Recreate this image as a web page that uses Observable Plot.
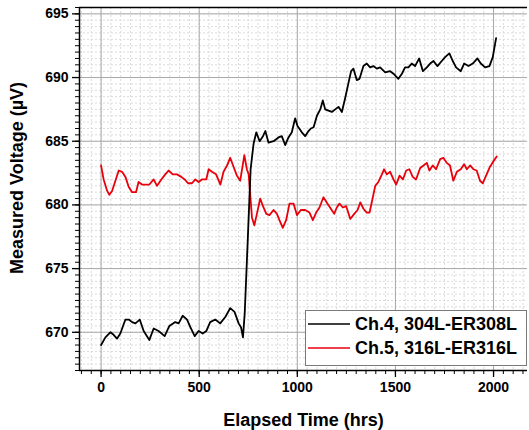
<!DOCTYPE html>
<html>
<head>
<meta charset="utf-8">
<script src="https://cdn.jsdelivr.net/npm/d3@7"></script>
<script src="https://cdn.jsdelivr.net/npm/@observablehq/plot@0.6"></script>
<style>
  html, body { margin: 0; padding: 0; background: #fff; }
  #chart svg { display: block; }
</style>
</head>
<body>
<div id="chart"></div>
<script>
// ---- Data ----
const seriesNames = ["Ch.4, 304L-ER308L", "Ch.5, 316L-ER316L"];
const seriesColors = ["#000000", "#e8000b"];

const timeCh4 = [0,22,47,64,81,98,124,141,158,175,197,217,246,268,293,324,348,378,395,416,438,455,477,497,518,536,556,582,607,633,658,680,701,713,723,732,743,752,762,777,791,808,825,837,853,879,904,921,938,955,972,989,1001,1023,1040,1057,1069,1083,1100,1117,1130,1142,1159,1176,1193,1210,1227,1244,1261,1274,1286,1303,1317,1337,1354,1371,1388,1405,1422,1448,1473,1490,1515,1533,1549,1566,1583,1600,1621,1640,1660,1677,1694,1714,1736,1753,1775,1792,1809,1833,1850,1872,1894,1918,1935,1957,1979,1996,2013];
const voltCh4 = [669.0,669.6,670.0,669.8,669.5,669.9,671.0,671.0,670.8,670.7,671.0,670.1,669.4,670.3,670.1,669.7,670.5,670.8,670.7,671.3,671.0,670.4,669.7,670.1,669.9,670.1,670.8,671.0,670.7,671.2,671.9,671.6,670.7,670.4,669.6,671.5,675.6,679.0,682.8,684.8,685.7,685.0,685.4,685.8,684.9,685.0,685.3,685.4,684.7,685.3,685.7,686.8,686.2,685.7,685.4,685.8,686.0,686.1,687.0,687.5,688.2,687.5,687.4,687.3,687.5,687.7,687.3,688.4,689.6,690.5,690.7,689.8,689.9,690.9,691.1,690.8,690.9,690.7,690.8,690.4,690.5,690.3,689.9,690.3,690.8,690.8,691.1,690.9,691.5,690.5,690.8,691.1,691.3,690.9,691.3,691.6,691.9,691.3,690.8,690.5,691.1,690.9,691.1,691.5,691.1,690.8,690.9,691.6,693.1];

const timeCh5 = [0,13,31,42,56,73,90,107,124,141,158,178,191,209,226,246,268,285,307,327,344,365,387,409,426,443,463,480,497,514,536,548,565,586,608,624,642,658,675,692,709,730,743,752,769,781,794,811,825,842,858,879,896,909,926,943,960,981,998,1018,1040,1062,1079,1096,1113,1133,1154,1171,1188,1201,1215,1232,1249,1270,1290,1307,1321,1337,1354,1368,1385,1397,1413,1431,1442,1456,1473,1490,1504,1521,1538,1555,1571,1588,1605,1626,1643,1660,1673,1690,1707,1728,1744,1762,1778,1795,1813,1833,1850,1864,1881,1897,1914,1931,1945,1962,1982,2003,2016];
const voltCh5 = [683.1,682.0,681.1,680.8,681.1,681.9,682.7,682.6,682.2,681.4,681.0,681.0,681.8,681.6,681.6,681.6,682.0,681.5,682.0,682.4,682.7,682.4,682.4,682.2,682.0,681.7,681.7,682.0,681.8,682.0,682.0,682.8,682.6,682.4,681.6,682.6,683.1,683.7,683.0,682.3,681.9,683.9,682.8,682.4,679.0,678.4,679.3,680.5,679.9,679.3,679.2,679.6,679.3,678.8,678.2,678.8,680.1,680.1,679.2,679.6,679.6,679.4,678.8,679.4,679.8,680.6,680.1,679.7,679.3,679.8,680.1,679.8,679.9,678.9,679.3,679.6,680.2,679.7,679.4,679.4,680.6,681.5,681.8,682.4,682.8,682.4,682.6,682.0,681.6,682.3,682.0,682.7,682.8,682.2,682.0,682.9,683.1,683.3,682.7,683.1,682.8,683.6,683.7,683.3,683.1,681.9,682.6,682.8,683.2,682.8,683.1,682.8,682.7,681.9,681.7,682.3,683.0,683.5,683.8];

const xTicks = [0, 500, 1000, 1500, 2000];
const yTicks = [670, 675, 680, 685, 690, 695];
const xDomain = [-110, 2173];
const yDomain = [667, 695.5];
const xTitle = "Elapsed Time (hrs)";
const yTitle = "Measured Voltage (\u00b5V)";

// ---- Build tables ----
const ch4 = timeCh4.map((t, i) => ({t, v: voltCh4[i]}));
const ch5 = timeCh5.map((t, i) => ({t, v: voltCh5[i]}));
const xMinor = d3.range(-100, 2173, 50);
const yMinor = d3.range(667, 695.6, 0.5);

const font = "'Liberation Sans', Arial, Helvetica, sans-serif";
const fmt = d => String(d);

const chart = Plot.plot({
  width: 529,
  height: 430,
  marginLeft: 79,
  marginRight: 2,
  marginTop: 7,
  marginBottom: 60,
  style: {fontFamily: font, fontWeight: "bold", fontSize: "14px", background: "#fff", color: "#000"},
  x: {domain: xDomain, axis: null},
  y: {domain: yDomain, axis: null},
  marks: [
    Plot.gridX(xMinor, {stroke: "#dadada", strokeOpacity: 1, strokeDasharray: "2,2"}),
    Plot.gridY(yMinor, {stroke: "#dadada", strokeOpacity: 1, strokeDasharray: "2,2"}),
    Plot.gridX(xTicks, {stroke: "#a8a8a8", strokeOpacity: 1}),
    Plot.gridY(yTicks, {stroke: "#a8a8a8", strokeOpacity: 1}),
    Plot.line(ch5, {x: "t", y: "v", stroke: seriesColors[1], strokeWidth: 1.8}),
    Plot.line(ch4, {x: "t", y: "v", stroke: seriesColors[0], strokeWidth: 1.8}),
    // minor ticks
    Plot.axisX(xMinor, {tickSize: 4, tickFormat: () => "", label: null, strokeWidth: 1}),
    Plot.axisY(yMinor, {tickSize: 4, tickFormat: () => "", label: null, strokeWidth: 1}),
    // major ticks
    Plot.axisX(xTicks, {tickSize: 7, tickPadding: 5, tickFormat: fmt, label: null, fontSize: 14, fontWeight: "bold", strokeWidth: 1.3}),
    Plot.axisY(yTicks, {tickSize: 7, tickPadding: 4, tickFormat: fmt, label: null, fontSize: 14, fontWeight: "bold", strokeWidth: 1.3}),
    // frame lines: left, bottom, top
    Plot.ruleX([xDomain[0]], {stroke: "#000", strokeWidth: 1.5}),
    Plot.ruleY([yDomain[0]], {stroke: "#000", strokeWidth: 1.5}),
    Plot.ruleY([yDomain[1]], {stroke: "#000", strokeWidth: 1.5}),
    // axis titles
    Plot.text([xTitle], {frameAnchor: "bottom", dy: 50, textAnchor: "middle", fontSize: 18, fontWeight: "bold", fontFamily: font, lineAnchor: "middle"}),
    Plot.text([yTitle], {frameAnchor: "left", dx: -62, dy: -11, rotate: -90, textAnchor: "middle", fontSize: 18, fontWeight: "bold", fontFamily: font, lineAnchor: "middle"})
  ]
});

document.getElementById("chart").appendChild(chart);

// ---- Legend (inside plot, lower right) ----
const svg = d3.select(chart.tagName.toLowerCase() === "svg" ? chart : chart.querySelector("svg"));
const lg = svg.append("g").attr("font-family", font).attr("font-weight", "bold").attr("font-size", 18).attr("text-anchor", "start");
lg.append("rect").attr("x", 305.5).attr("y", 310.5).attr("width", 221).attr("height", 55)
  .attr("fill", "#fff").attr("stroke", "#7a7a7a").attr("stroke-width", 1);
seriesNames.forEach((name, i) => {
  const y = 324 + i * 24;
  lg.append("line").attr("x1", 308).attr("x2", 350).attr("y1", y).attr("y2", y)
    .attr("stroke", seriesColors[i]).attr("stroke-width", 1.6);
  lg.append("text").attr("x", 355).attr("y", y).attr("dy", "0.35em").attr("fill", "#000")
    .attr("text-anchor", "start").text(name);
});
</script>
</body>
</html>
